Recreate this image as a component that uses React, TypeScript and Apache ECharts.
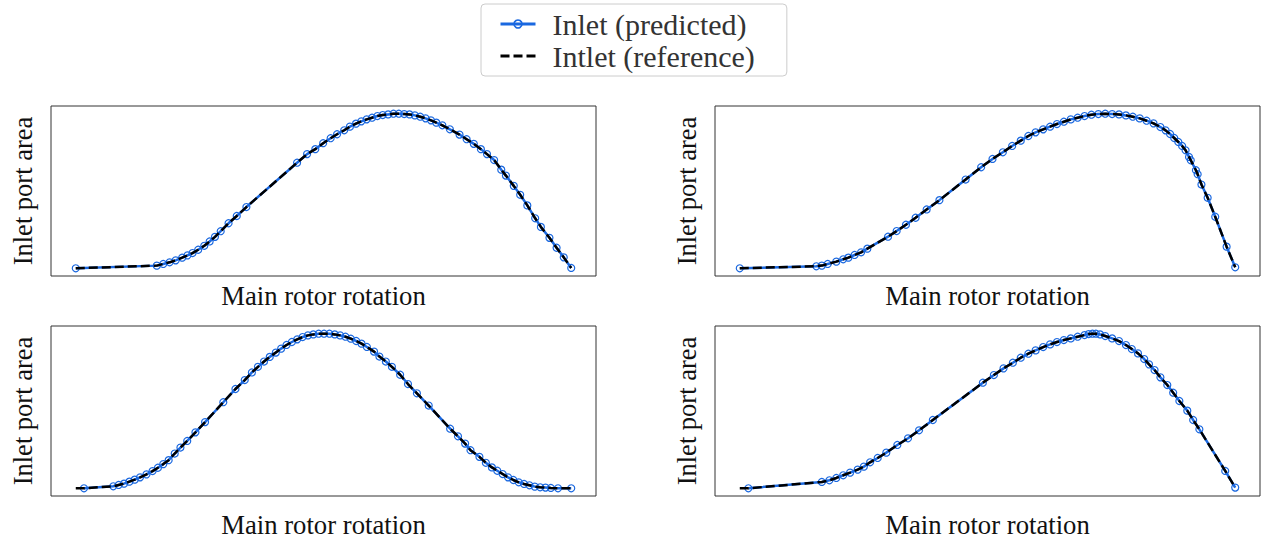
import React, { useEffect, useRef } from "react";
import * as echarts from "echarts";

// Legend / axis texts
const PRED_NAME = "Inlet (predicted)";
const REF_NAME = "Intlet (reference)";
const X_LABEL = "Main rotor rotation";
const Y_LABEL = "Inlet port area";

// Values, arbitrary units [rotation, area]
const topLeftPred: number[][] = [
  [0, 0], [227, 8], [245, 13], [263, 18], [280, 24], [298, 32], [313, 39], [327, 46], [343, 56],
  [360, 68], [375, 81], [390, 95], [406, 112], [428, 136], [451, 158], [478, 185], [620, 319],
  [648, 345], [671, 360], [693, 378], [714, 393], [732, 405], [752, 417], [768, 428], [785, 437],
  [800, 444], [815, 450], [830, 455], [845, 460], [860, 463], [875, 465], [890, 467], [905, 467],
  [920, 466], [935, 465], [950, 462], [965, 458], [980, 453], [995, 447], [1010, 440], [1027, 432],
  [1048, 420], [1075, 404], [1095, 390], [1115, 376], [1135, 360], [1152, 345], [1172, 327],
  [1192, 298], [1205, 280], [1227, 249], [1245, 222], [1265, 190], [1287, 151], [1303, 125],
  [1327, 92], [1347, 62], [1367, 33], [1388, 1],
];
const topLeftRef: number[][] = topLeftPred;

const topRightPred: number[][] = [
  [0, 0], [222, 6], [238, 8], [255, 13], [280, 20], [300, 27], [315, 32], [333, 40], [352, 48],
  [370, 59], [430, 95], [455, 112], [482, 131], [510, 152], [542, 177], [579, 205], [655, 267],
  [700, 304], [733, 329], [763, 349], [790, 368], [815, 384], [837, 398], [858, 409], [880, 418],
  [900, 426], [920, 434], [940, 441], [960, 448], [980, 453], [1000, 458], [1020, 462], [1040, 464],
  [1060, 465], [1080, 464], [1100, 463], [1120, 460], [1140, 456], [1160, 451], [1180, 444],
  [1200, 436], [1220, 425], [1235, 415], [1248, 404], [1260, 392], [1272, 380], [1283, 368],
  [1293, 355], [1303, 335], [1308, 325], [1323, 295], [1328, 283], [1339, 252], [1357, 212],
  [1379, 155], [1412, 65], [1437, 3],
];
const topRightRef: number[][] = topRightPred;

const bottomLeftPred: number[][] = [
  [23, 0], [105, 6], [120, 10], [135, 14], [150, 20], [165, 26], [180, 33], [198, 42], [215, 52],
  [230, 62], [245, 73], [260, 85], [277, 105], [293, 123], [312, 143], [335, 169], [362, 200],
  [413, 260], [447, 300], [473, 327], [493, 350], [510, 367], [527, 383], [543, 397], [560, 410],
  [575, 422], [590, 433], [605, 442], [620, 450], [635, 457], [650, 462], [665, 465], [680, 467],
  [695, 467], [710, 467], [725, 465], [740, 462], [755, 458], [770, 452], [785, 445], [800, 437],
  [815, 427], [835, 413], [850, 398], [868, 383], [885, 367], [908, 343], [930, 315], [955, 287],
  [988, 250], [1048, 180], [1070, 157], [1090, 135], [1105, 115], [1130, 95], [1148, 77],
  [1165, 63], [1180, 53], [1195, 43], [1210, 33], [1225, 25], [1240, 18], [1255, 13], [1270, 9],
  [1285, 5], [1300, 3], [1315, 2], [1330, 1], [1350, 0], [1387, 0],
];
const bottomLeftRef: number[][] = [[0, 0], ...bottomLeftPred];

const bottomRightPred: number[][] = [
  [25, 0], [238, 19], [260, 24], [280, 31], [300, 39], [320, 47], [342, 56], [360, 65], [378, 78],
  [400, 91], [425, 107], [457, 130], [488, 150], [520, 174], [560, 205], [705, 317], [737, 340],
  [765, 360], [792, 377], [815, 392], [837, 404], [858, 414], [880, 424], [900, 432], [920, 439],
  [940, 445], [960, 450], [980, 455], [1000, 460], [1012, 463], [1023, 464], [1033, 464],
  [1045, 462], [1060, 457], [1080, 450], [1100, 442], [1120, 430], [1137, 418], [1155, 405],
  [1173, 388], [1187, 372], [1203, 355], [1220, 333], [1240, 310], [1257, 287], [1275, 262],
  [1298, 233], [1315, 205], [1333, 177], [1408, 52], [1437, 2],
];
const bottomRightRef: number[][] = [[0, 0], ...bottomRightPred];

const BLUE = "#1a68e0";
const FONT = "Liberation Serif";
const DASH = [9, 4];

const panels = [
  { pred: topLeftPred, ref: topLeftRef, left: 51, top: 106, xGap: 6 },
  { pred: topRightPred, ref: topRightRef, left: 715, top: 106, xGap: 6 },
  { pred: bottomLeftPred, ref: bottomLeftRef, left: 51, top: 326, xGap: 15 },
  { pred: bottomRightPred, ref: bottomRightRef, left: 715, top: 326, xGap: 15 },
];

const padMin = (v: { min: number; max: number }) => v.min - 0.05 * (v.max - v.min);
const padMax = (v: { min: number; max: number }) => v.max + 0.05 * (v.max - v.min);

export default function App() {
  const ref = useRef<HTMLDivElement>(null);
  useEffect(() => {
    if (!ref.current) return;
    const chart = echarts.init(ref.current, undefined, { renderer: "svg" });
    const option: any = {
      animation: false,
      backgroundColor: "#fff",
      legend: {
        data: [
          {
            name: PRED_NAME,
            lineStyle: { width: 3, color: BLUE },
            itemStyle: { color: "rgba(255,255,255,0)", borderColor: BLUE, borderWidth: 1.6 },
          },
          {
            name: REF_NAME,
            lineStyle: { width: 3, color: "#000", type: DASH },
            itemStyle: { opacity: 0 },
          },
        ],
        orient: "vertical",
        left: 481,
        top: 4,
        itemWidth: 35,
        itemHeight: 10,
        itemGap: 2,
        padding: [5, 32, 5, 18],
        backgroundColor: "#fff",
        borderColor: "#cccccc",
        borderWidth: 1,
        borderRadius: 4,
        selectedMode: false,
        textStyle: {
          fontFamily: FONT,
          fontSize: 30,
          lineHeight: 30,
          color: "#333",
          padding: [0, 0, 0, 12],
        },
      },
      grid: panels.map((p) => ({
        left: p.left,
        top: p.top,
        width: 545,
        height: 170,
        show: true,
        borderColor: "#333",
        borderWidth: 1,
        backgroundColor: "transparent",
      })),
      xAxis: panels.map((p, i) => ({
        type: "value",
        gridIndex: i,
        min: padMin,
        max: padMax,
        name: X_LABEL,
        nameLocation: "middle",
        nameGap: p.xGap,
        nameTextStyle: { fontFamily: FONT, fontSize: 26.7, color: "#111" },
        axisLine: { show: false },
        axisTick: { show: false },
        axisLabel: { show: false },
        splitLine: { show: false },
      })),
      yAxis: panels.map((p, i) => ({
        type: "value",
        gridIndex: i,
        min: padMin,
        max: padMax,
        name: Y_LABEL,
        nameLocation: "middle",
        nameRotate: 90,
        nameGap: 15,
        nameTextStyle: { fontFamily: FONT, fontSize: 26.5, color: "#111" },
        axisLine: { show: false },
        axisTick: { show: false },
        axisLabel: { show: false },
        splitLine: { show: false },
      })),
      series: panels.flatMap((p, i) => [
        {
          name: PRED_NAME,
          type: "line",
          xAxisIndex: i,
          yAxisIndex: i,
          data: p.pred,
          symbol: "circle",
          symbolSize: 7,
          showSymbol: true,
          silent: true,
          lineStyle: { color: BLUE, width: 2.5 },
          itemStyle: { color: "rgba(255,255,255,0)", borderColor: BLUE, borderWidth: 1.2 },
          z: 2,
        },
        {
          name: REF_NAME,
          type: "line",
          xAxisIndex: i,
          yAxisIndex: i,
          data: p.ref,
          symbol: "none",
          silent: true,
          lineStyle: { color: "#000", width: 2.5, type: DASH },
          itemStyle: { color: "#000" },
          z: 3,
        },
      ]),
    };
    chart.setOption(option);
    return () => chart.dispose();
  }, []);
  return (
    <div
      ref={ref}
      style={{ position: "fixed", left: 0, top: 0, width: 1262, height: 542, background: "#fff" }}
    />
  );
}
